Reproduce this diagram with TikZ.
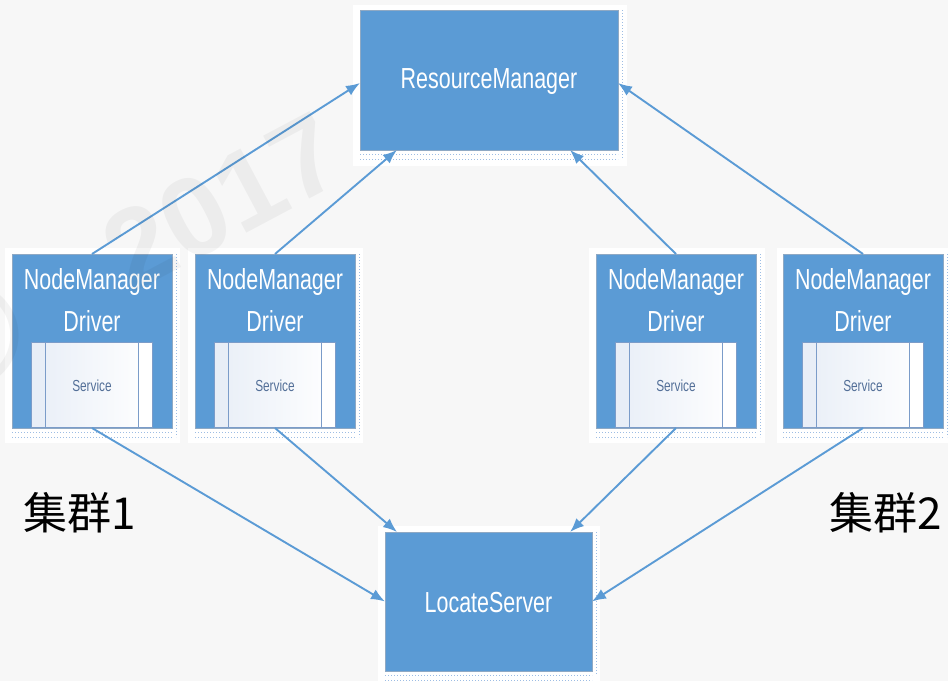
\documentclass[tikz,border=0pt]{standalone}
\usepackage{fontspec}
\setmainfont{Liberation Sans}
\newfontfamily\narrowsf{Liberation Sans}[FakeStretch=0.74]
\newfontfamily\wmfont{Liberation Sans Bold}
\newfontfamily\cjk{Noto Sans CJK SC}
\usetikzlibrary{arrows.meta,calc}

\definecolor{boxblue}{HTML}{5B9BD5}
\definecolor{boxedge}{HTML}{8FA9C4}
\definecolor{pagebg}{HTML}{F7F7F7}
\definecolor{svcedge}{HTML}{7B9CC9}
\definecolor{svcstrip}{HTML}{E8EEF7}
\definecolor{svctext}{HTML}{536F98}
\definecolor{tickblue}{HTML}{9DBDE4}

\tikzset{
  panel/.style={fill=white, draw=none},
  bluebox/.style={fill=boxblue, draw=boxedge, line width=0.6pt,
    inner sep=0pt, outer sep=0pt},
  bigtext/.style={text=white, font=\narrowsf\fontsize{29}{42}\selectfont,
    align=center, inner sep=0pt},
  svcbox/.style={draw=svcedge, line width=0.8pt, inner sep=0pt, outer sep=0pt,
    minimum width=121pt, minimum height=85pt,
    left color=svcstrip, right color=white},
  svclabel/.style={text=svctext, font=\narrowsf\fontsize{16}{18}\selectfont, inner sep=0pt},
  svcline/.style={draw=svcedge, line width=0.8pt},
  ticks/.style={draw=tickblue, line width=0.9pt, dash pattern=on 0.8pt off 2.2pt},
  conn/.style={draw=boxblue, line width=1.9pt, -{Latex[length=14pt,width=11pt]}},
  grouplabel/.style={font=\cjk\fontsize{44}{48}\selectfont, text=black, inner sep=0pt},
  watermark/.style={font=\wmfont\fontsize{112}{112}\selectfont, text=black,
    text opacity=0.045, inner sep=0pt, rotate=28}
}

\newcommand{\nmgroup}[2]{%
  % #1 = suffix, #2 = centre x of the NodeManager box
  \node[bluebox, minimum width=160pt, minimum height=174pt] (nm#1) at (#2,341) {};
  \node[bigtext] (nmt#1) at (#2,300) {NodeManager\\Driver};
  \node[svcbox] (sv#1) at (#2,384.5) {};
  \fill[svcstrip] (sv#1.north west) rectangle ([xshift=14pt]sv#1.south west);
  \fill[white] ([xshift=-14pt]sv#1.north east) rectangle (sv#1.south east);
  \draw[svcline] (sv#1.north west) rectangle (sv#1.south east);
  \draw[svcline] ([xshift=14pt]sv#1.north west) -- ([xshift=14pt]sv#1.south west);
  \draw[svcline] ([xshift=-14pt]sv#1.north east) -- ([xshift=-14pt]sv#1.south east);
  \node[svclabel] (svt#1) at (#2,386) {Service};
  \draw[ticks] ([yshift=-4pt]nm#1.south west) -- ([yshift=-4pt]nm#1.south east);
  \draw[ticks] ([yshift=-9pt]nm#1.south west) -- ([yshift=-9pt]nm#1.south east);
  \draw[ticks] ([xshift=4pt]nm#1.north east) -- ([xshift=4pt,yshift=-9pt]nm#1.south east);
}

\begin{document}
\begin{tikzpicture}[x=1pt,y=-1pt]
  % page background
  \fill[pagebg] (0,0) rectangle (948,681);
  \useasboundingbox (0,0) rectangle (948,681);

  % white panels behind the boxes
  \fill[panel] (353,5) rectangle (627,166);
  \fill[panel] (5,248) rectangle (180,443);
  \fill[panel] (188,248) rectangle (363,443);
  \fill[panel] (589,248) rectangle (765,443);
  \fill[panel] (777,248) rectangle (948,443);
  \fill[panel] (378,526) rectangle (600,681);

  % central servers
  \node[bluebox, minimum width=258pt, minimum height=140pt] (rm) at (489,80) {};
  \node[bigtext] (rmt) at (489,82) {ResourceManager};
  \draw[ticks] ([yshift=-4pt]rm.south west) -- ([yshift=-4pt]rm.south east);
  \draw[ticks] ([yshift=-9pt]rm.south west) -- ([yshift=-9pt]rm.south east);
  \draw[ticks] ([xshift=4pt]rm.north east) -- ([xshift=4pt,yshift=-9pt]rm.south east);

  \node[bluebox, minimum width=207pt, minimum height=139pt] (ls) at (488.5,601.5) {};
  \node[bigtext] (lst) at (488.5,603) {LocateServer};
  \draw[ticks] ([yshift=-4pt]ls.south west) -- ([yshift=-4pt]ls.south east);
  \draw[ticks] ([yshift=-9pt]ls.south west) -- ([yshift=-9pt]ls.south east);
  \draw[ticks] ([xshift=4pt]ls.north east) -- ([xshift=4pt,yshift=-4pt]ls.south east);

  % node managers
  \nmgroup{1}{92}
  \nmgroup{2}{275}
  \nmgroup{3}{676}
  \nmgroup{4}{863}

  % anchor points on the central boxes
  \coordinate (rmb1) at ($(rm.south west)!0.143!(rm.south east)$);
  \coordinate (rmb2) at ($(rm.south west)!0.814!(rm.south east)$);
  \coordinate (lst1) at ($(ls.north west)!0.058!(ls.north east)$);
  \coordinate (lst2) at ($(ls.north west)!0.894!(ls.north east)$);

  % registration with the ResourceManager
  \draw[conn] (nm1.north) -- ([yshift=-3pt]rm.west);
  \draw[conn] (nm2.north) -- (rmb1);
  \draw[conn] (nm3.north) -- (rmb2);
  \draw[conn] (nm4.north) -- ([yshift=-3pt]rm.east);

  % reporting to the LocateServer
  \draw[conn] (nm1.south) -- (ls.west);
  \draw[conn] (nm2.south) -- (lst1);
  \draw[conn] (nm3.south) -- (lst2);
  \draw[conn] (nm4.south) -- (ls.east);

  % cluster labels
  \node[grouplabel] (g1) at (80,513) {集群1};
  \node[grouplabel] (g2) at (886,513) {集群2};

  % translucent copyright mark laid over the left side
  \node[watermark] (wmyear) at (222,202) {2017};
  \node[watermark, font=\wmfont\fontsize{150}{150}\selectfont] (wmsign) at (-34,336) {©};
\end{tikzpicture}
\end{document}
